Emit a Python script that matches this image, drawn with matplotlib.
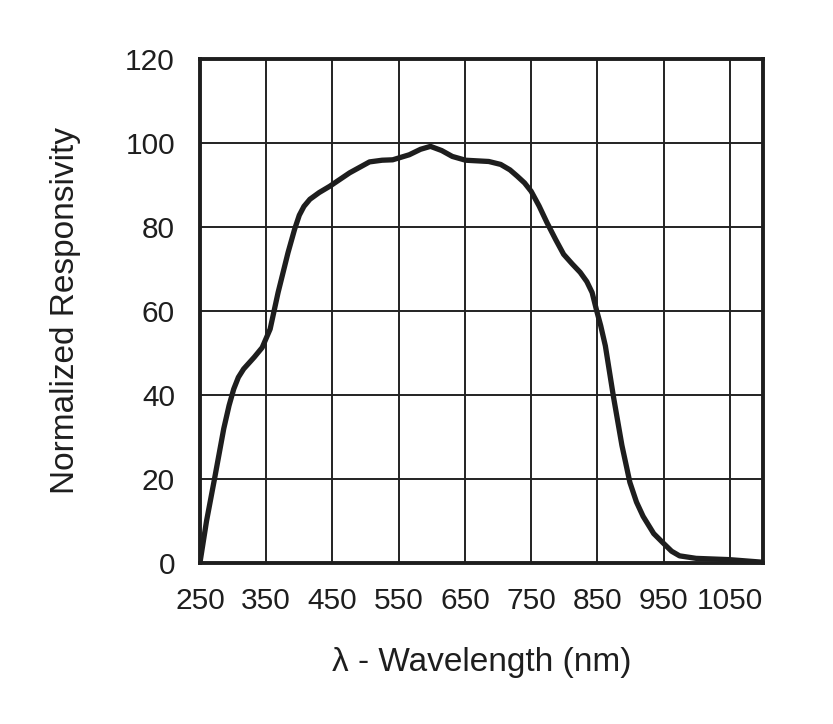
import numpy as np
import matplotlib
matplotlib.use("Agg")
import matplotlib.pyplot as plt

plt.rcParams['font.family'] = ['Liberation Sans', 'DejaVu Sans']

# spectral response
wavelength = [250, 260, 272, 286, 294, 301, 308, 316, 332, 344, 356, 368, 383, 393, 400,
              407, 416, 430, 446, 476, 506, 525, 541, 566, 583, 598, 615, 631, 651, 686,
              704, 718, 729, 740, 750, 762, 774, 787, 799, 812, 824, 834, 842, 849, 855,
              862, 874, 887, 899, 909, 919, 935, 949, 962, 974, 999, 1049, 1098]
response = [0, 10, 20, 32, 37.5, 41.4, 44.2, 46.2, 49, 51.3, 55.7, 64.4, 73.9, 79.5, 82.8,
            84.9, 86.6, 88.2, 89.7, 92.9, 95.5, 95.9, 96.0, 97.2, 98.5, 99.2, 98.2, 96.8, 95.9, 95.6,
            94.9, 93.6, 92.1, 90.5, 88.5, 85, 81, 77, 73.5, 71.2, 69.2, 67, 64.4, 60, 56.5,
            51.7, 39.8, 28, 19.2, 14.5, 11.1, 7, 4.8, 2.8, 1.7, 1.1, 0.8, 0.2]

x_ticks = [250, 350, 450, 550, 650, 750, 850, 950, 1050]
y_ticks = [0, 20, 40, 60, 80, 100, 120]

fig = plt.figure(figsize=(8.33, 7.24), dpi=100)
ax = fig.add_axes([0.240, 0.2224, 0.676, 0.6961])

ax.plot(wavelength, response, color='#1e1e1e', lw=3.8, solid_joinstyle='round',
        solid_capstyle='round', zorder=3)

ax.set_xlim(250, 1100)
ax.set_ylim(0, 120)
ax.set_xticks(x_ticks)
ax.set_yticks(y_ticks)
ax.grid(True, color='#222222', lw=1.4)
ax.set_axisbelow(True)
ax.tick_params(length=0, labelsize=21.5, colors='#1e1e1e')
ax.tick_params(axis='y', pad=18)
ax.tick_params(axis='x', pad=17)
for s in ax.spines.values():
    s.set_linewidth(2.8)
    s.set_color('#1e1e1e')

ax.set_xlabel('λ - Wavelength (nm)', fontsize=24, labelpad=23, color='#1e1e1e')
ax.set_ylabel('Normalized Responsivity', fontsize=24, labelpad=32, color='#1e1e1e')

fig.savefig('out.png', dpi=100)
